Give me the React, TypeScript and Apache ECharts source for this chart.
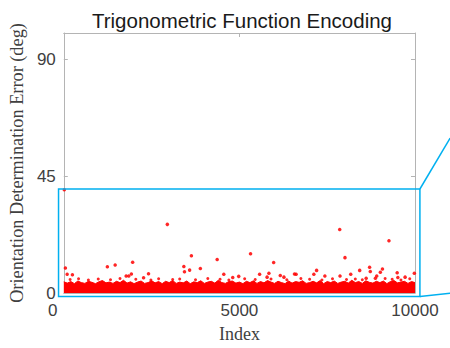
import React, { useEffect, useRef } from "react";
import * as echarts from "echarts";

const titleText = "Trigonometric Function Encoding";
const xName = "Index";
const yName = "Orientation Determination Error (deg)";
const xTicks = [0, 5000, 10000];
const yTicks = [0, 45, 90];

// upper envelope of the dense error band, sampled every 100 indices (0..10000)
const bandStep = 100;
const bandTop = [
  4.3, 3.8, 4.4, 3.6, 4.6, 4.0, 3.7, 4.5, 4.1, 3.6,
  4.3, 4.8, 3.9, 4.2, 3.7, 4.5, 4.0, 4.9, 3.8, 4.3,
  3.6, 4.2, 4.6, 3.7, 4.0, 4.7, 3.9, 4.4, 3.6, 4.5,
  4.0, 4.8, 3.7, 4.2, 3.9, 4.6, 3.6, 4.3, 4.0, 4.7,
  3.7, 4.2, 4.5, 3.8, 4.9, 4.0, 3.7, 4.4, 4.6, 3.8,
  4.2, 3.6, 4.5, 4.0, 4.7, 3.7, 4.4, 3.9, 4.8, 4.2,
  3.7, 4.5, 4.0, 3.6, 4.6, 3.8, 4.4, 4.1, 4.7, 3.7,
  4.0, 4.5, 3.9, 4.8, 3.6, 4.4, 4.0, 4.6, 3.7, 4.2,
  4.5, 3.8, 4.9, 4.0, 4.4, 3.7, 4.7, 4.1, 3.8, 4.5,
  4.0, 4.6, 3.6, 4.4, 4.8, 3.9, 4.2, 4.5, 3.7, 4.4, 4.0,
];

// scattered points just above the band's edge: [index, error deg]
const edgeIndex = [
  180, 420, 700, 980, 1330, 1600, 2050, 2480, 2700, 3100, 3300, 3750, 4100,
  4450, 4700, 5150, 5450, 5900, 6350, 6750, 7000, 7350, 7650, 8050, 8300,
  8500, 9150, 9350, 9600, 9850,
];
const edgeError = [
  5.2, 5.5, 5.0, 5.4, 5.1, 5.6, 5.3, 5.0, 5.5, 5.2, 5.4, 5.1, 5.6,
  5.3, 5.0, 5.5, 5.2, 5.4, 5.1, 5.6, 5.3, 5.0, 5.5, 5.2, 5.4,
  5.1, 5.6, 5.3, 5.0, 5.5,
];

// isolated error points above the band: [index, error deg]
const outlierIndex = [
  14, 45, 95, 245, 1240, 1462, 1960, 1775, 1850, 1924, 2271, 2412, 2948, 3418,
  3436, 3582, 3633, 3888, 4367, 4556, 4810, 4980, 5317, 5575, 5840, 5788, 5975,
  6164, 6268, 6568, 6615, 7120, 7198, 7433, 7856, 7865, 8006, 8170, 8425, 8610,
  8707, 8727, 8872, 8910, 9013, 9073, 9258, 9492, 9512, 9718, 9981,
];
const outlierError = [
  39.7, 9.6, 7.2, 7.0, 10.1, 10.8, 11.8, 6.5, 6.5, 7.3, 5.9, 7.4, 26.4, 10.2,
  8.2, 8.8, 14.3, 9.4, 12.9, 7.2, 6.0, 6.4, 15.1, 7.2, 7.6, 6.1, 11.7,
  6.7, 6.1, 7.3, 7.2, 7.2, 8.7, 6.5, 24.4, 6.5, 13.6, 7.2, 8.7, 5.7,
  9.9, 8.3, 5.7, 6.5, 8.0, 9.2, 20.1, 7.8, 6.0, 6.1, 7.6,
];

// zoom-region highlight box (data coords) and connector targets
const zoomBox = { x0: -150, x1: 10140, y0: -1.3, y1: 40.0 };
const connTop = [11000, 59.6];
const connBottom = [11000, -0.1];

const RED = "#ff0000";
const BLUE = "#00b0f0";
const AXIS = "#b4b4b4";
const SANS = "'Liberation Sans', Arial, Helvetica, sans-serif";
const SERIF = "'Liberation Serif', 'Times New Roman', serif";

export default function App() {
  const ref = useRef<HTMLDivElement>(null);
  useEffect(() => {
    if (!ref.current) return;
    const chart = echarts.init(ref.current, null, { renderer: "svg" });
    const bandData = bandTop.map((v, i) => [i * bandStep, v]);
    const edges = edgeIndex.map((x, i) => [x, edgeError[i]]);
    const outliers = outlierIndex.map((x, i) => [x, outlierError[i]]);
    const xMin = xTicks[0];
    const xMax = xTicks[xTicks.length - 1];
    const xInt = xTicks[1] - xTicks[0];
    const yInt = yTicks[1] - yTicks[0];
    const mirrorTick = { show: true, inside: true, length: 4, lineStyle: { color: AXIS } };
    const line = { show: true, onZero: false, lineStyle: { color: AXIS, width: 1 } };
    chart.setOption({
      animation: false,
      backgroundColor: "#ffffff",
      title: {
        text: titleText,
        left: 237,
        textAlign: "center",
        top: 5,
        textStyle: { fontFamily: SANS, fontSize: 20.5, fontWeight: "normal", color: "#1a1a1a" },
      },
      grid: { left: 60, right: 35, top: 33, bottom: 50, containLabel: false },
      xAxis: [
        {
          type: "value",
          min: xMin,
          max: xMax,
          interval: xInt,
          name: xName,
          nameLocation: "middle",
          nameGap: 32,
          nameTextStyle: { fontFamily: SERIF, fontSize: 18, color: "#404040" },
          axisLine: line,
          axisTick: mirrorTick,
          splitLine: { show: false },
          axisLabel: {
            margin: 9,
            fontFamily: SANS,
            fontSize: 17,
            color: "#404040",
            formatter: (v: number) => (v === xMin ? "{first|" + v + "}" : String(v)),
            rich: { first: { fontFamily: SANS, fontSize: 17, color: "#404040", padding: [0, 22, 0, 0] } },
          },
        },
        {
          type: "value",
          position: "top",
          min: xMin,
          max: xMax,
          interval: xInt,
          axisLine: line,
          axisTick: mirrorTick,
          axisLabel: { show: false },
          splitLine: { show: false },
        },
      ],
      yAxis: [
        {
          type: "value",
          min: 0,
          max: 100,
          interval: yInt,
          name: yName,
          nameLocation: "middle",
          nameGap: 32,
          nameTextStyle: { fontFamily: SERIF, fontSize: 18.3, color: "#404040" },
          axisLine: line,
          axisTick: mirrorTick,
          splitLine: { show: false },
          axisLabel: {
            margin: 8,
            fontFamily: SANS,
            fontSize: 17,
            color: "#404040",
            formatter: (v: number) => (yTicks.includes(v) ? String(v) : ""),
          },
        },
        {
          type: "value",
          position: "right",
          min: 0,
          max: 100,
          interval: yInt,
          axisLine: line,
          axisTick: mirrorTick,
          axisLabel: { show: false },
          splitLine: { show: false },
        },
      ],
      series: [
        {
          type: "line",
          data: bandData,
          showSymbol: false,
          symbol: "none",
          lineStyle: { color: RED, width: 1 },
          areaStyle: { color: RED, opacity: 1 },
          z: 2,
          silent: true,
        },
        {
          type: "scatter",
          data: edges,
          symbolSize: 3,
          itemStyle: { color: RED, opacity: 0.85 },
          z: 3,
        },
        {
          type: "scatter",
          data: outliers,
          symbolSize: 3.5,
          itemStyle: { color: RED, opacity: 0.85 },
          z: 3,
        },
        {
          type: "custom",
          clip: false,
          silent: true,
          z: 5,
          data: [[0, 0]],
          renderItem: (_params: any, api: any) => {
            const tl = api.coord([zoomBox.x0, zoomBox.y1]);
            const br = api.coord([zoomBox.x1, zoomBox.y0]);
            const t1 = api.coord(connTop);
            const t2 = api.coord(connBottom);
            const style = { stroke: BLUE, lineWidth: 1.5, fill: null };
            return {
              type: "group",
              children: [
                {
                  type: "rect",
                  shape: { x: tl[0], y: tl[1], width: br[0] - tl[0], height: br[1] - tl[1] },
                  style: { stroke: BLUE, lineWidth: 1.5, fill: "none" },
                },
                { type: "line", shape: { x1: br[0], y1: tl[1], x2: t1[0], y2: t1[1] }, style },
                { type: "line", shape: { x1: br[0], y1: br[1], x2: t2[0], y2: t2[1] }, style },
              ],
            };
          },
        },
      ],
    });
    return () => chart.dispose();
  }, []);
  return (
    <div
      ref={ref}
      style={{ position: "fixed", left: 0, top: 0, width: 450, height: 348, background: "#fff" }}
    />
  );
}
